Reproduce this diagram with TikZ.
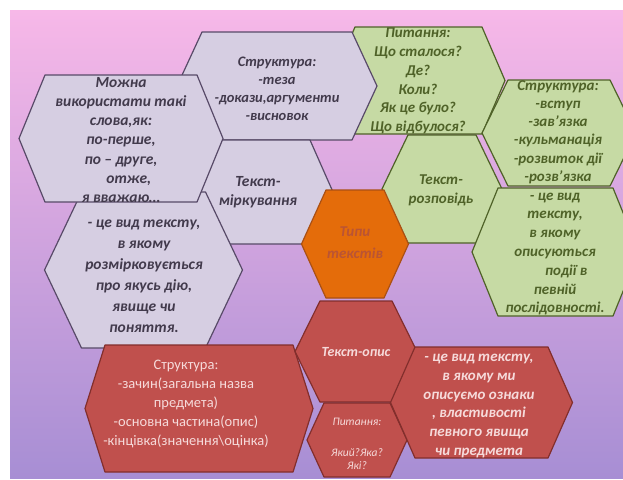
\documentclass[tikz,border=0pt]{standalone}
\usepackage{fontspec}
\setmainfont{Carlito}
\usetikzlibrary{calc, positioning}

\definecolor{bgtop}{RGB}{247,184,232}
\definecolor{bgbot}{RGB}{167,142,212}
\definecolor{lavfill}{RGB}{214,206,226}
\definecolor{lavline}{RGB}{88,74,104}
\definecolor{lavtext}{RGB}{66,58,76}
\definecolor{grnfill}{RGB}{198,218,164}
\definecolor{grnline}{RGB}{79,98,40}
\definecolor{grntext}{RGB}{79,98,40}
\definecolor{orgfill}{RGB}{228,108,10}
\definecolor{orgline}{RGB}{170,80,20}
\definecolor{orgtext}{RGB}{186,84,52}
\definecolor{redfill}{RGB}{192,80,77}
\definecolor{redline}{RGB}{130,46,44}
\definecolor{redtext}{RGB}{246,218,218}

\begin{document}
\begin{tikzpicture}[x=1pt, y=-1pt,
  hexbase/.style={line width=1.2pt, line join=round},
  lavhex/.style={hexbase, draw=lavline, fill=lavfill},
  grnhex/.style={hexbase, draw=grnline, fill=grnfill},
  orghex/.style={hexbase, draw=orgline, fill=orgfill},
  redhex/.style={hexbase, draw=redline, fill=redfill},
  txtbase/.style={align=center, inner sep=0pt},
  lavtxt/.style={txtbase, text=lavtext, font=\bfseries\itshape\fontsize{15.5}{19.3}\selectfont},
  grntxt/.style={txtbase, text=grntext, font=\bfseries\itshape\fontsize{15}{18.8}\selectfont},
  orgtxt/.style={txtbase, text=orgtext, font=\bfseries\itshape\fontsize{15}{22}\selectfont},
  redtxt/.style={txtbase, text=redtext, font=\bfseries\itshape\fontsize{15}{18.7}\selectfont},
  redplain/.style={txtbase, text=redtext, font=\fontsize{14.5}{18.8}\selectfont}]

% hexagon: style, centre x, centre y, half width, half top edge, half height
\def\hexa#1#2#3#4#5#6{%
  \draw[#1] ({#2-#4},#3) -- ({#2-#5},{#3-#6}) -- ({#2+#5},{#3-#6})
    -- ({#2+#4},#3) -- ({#2+#5},{#3+#6}) -- ({#2-#5},{#3+#6}) -- cycle;}

\useasboundingbox (0,0) rectangle (623,479);
\fill[white] (0,0) rectangle (623,479);
\clip (10,10) rectangle (623,478);
\shade[top color=bgtop, bottom color=bgbot] (10,10) rectangle (623,478);

% narrative
\hexa{grnhex}{418.5}{80.5}{86.5}{63.5}{53.5}
\hexa{grnhex}{442}{189}{60}{34}{54}
\hexa{grnhex}{559}{133}{77}{51}{53}
\hexa{grnhex}{555.5}{252}{83.5}{57.5}{64}

% reasoning
\hexa{lavhex}{277}{86}{100}{75}{54}
\hexa{lavhex}{258}{192}{75}{52}{52}
\hexa{lavhex}{143.5}{270}{99}{62}{78}
\hexa{lavhex}{121}{138.5}{102}{76}{63.5}

% centre
\hexa{orghex}{355}{244}{53.5}{29}{54}

% description
\hexa{redhex}{199}{408.5}{114}{94}{63.5}
\hexa{redhex}{356}{351.5}{61}{36}{50.5}
\hexa{redhex}{357}{440}{50}{33}{37}
\hexa{redhex}{481.5}{402.5}{91}{66.5}{55.5}

\node[grntxt] (pytr) at (418,81) {Питання:\\ Що сталося?\\ Де?\\ Коли?\\ Як це було?\\ Що відбулося?};
\node[grntxt] (rozp) at (441,190) {Текст-\\ розповідь};
\node[grntxt, font=\bfseries\itshape\fontsize{15}{18.2}\selectfont] (strr) at (558,132) {Структура:\\ -вступ\\ -зав’язка\\ -кульманація\\ -розвиток дії\\ -розв’язка};
\node[grntxt] (vydr) at (555,254) {- це вид\\ тексту,\\ в якому\\ описуються\\ \hspace*{1.5em}події в\\ певній\\ послідовності.};

\node[lavtxt, font=\bfseries\itshape\fontsize{14.5}{18}\selectfont] (strm) at (277,89) {Структура:\\ -теза\\ -докази,аргументи\\ -висновок};
\node[lavtxt] (mirk) at (258,192) {Текст-\\ міркування};
\node[lavtxt, font=\bfseries\itshape\fontsize{15.5}{21}\selectfont] (vydm) at (144,276) {- це вид тексту,\\ в якому\\ розмірковується\\ про якусь дію,\\ явище чи\\ поняття.};
\node[lavtxt] (slova) at (121,140) {Можна\\ використати такі\\ слова,як:\\ по-перше,\\ по – друге,\\ \hspace*{1em}отже,\\ я вважаю…};

\node[orgtxt] (typy) at (355,243) {Типи\\ текстів};

\node[redplain] (stro) at (186,404) {Структура:\\ -зачин(загальна назва\\ предмета)\\ -основна частина(опис)\\ -кінцівка(значення\textbackslash оцінка)};
\node[redtxt, font=\bfseries\itshape\fontsize{14}{18}\selectfont] (opys) at (356,352) {Текст-опис};
\node[redtxt, font=\itshape\fontsize{11.5}{13.3}\selectfont] (pyto) at (357,444) {Питання:\\[18pt] Який?Яка?\\ Які?};
\node[redtxt] (vydo) at (479,406) {- це вид тексту,\\ в якому ми\\ описуємо ознаки\\ , властивості\\ певного явища\\ чи предмета};
\end{tikzpicture}
\end{document}
